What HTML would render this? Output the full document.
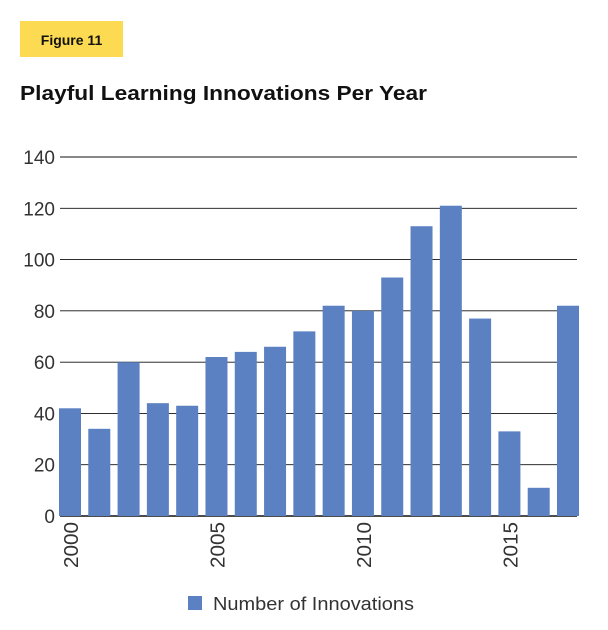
<!DOCTYPE html>
<html><head><meta charset="utf-8"><style>
body{margin:0;background:#fff;font-family:"Liberation Sans",Arial,sans-serif}
svg{display:block}
</style></head><body>
<svg width="608" height="630" xmlns="http://www.w3.org/2000/svg">
<rect x="20" y="21" width="103" height="36" fill="#fcdb52"/>
<text x="71.5" y="45" text-anchor="middle" font-size="14" font-weight="bold" fill="#111">Figure 11</text>
<text x="20" y="100" font-size="20" font-weight="bold" fill="#111" textLength="407" lengthAdjust="spacingAndGlyphs">Playful Learning Innovations Per Year</text>
<g id="grid"></g><g id="bars"></g><g id="xlabels"></g>
<rect x="188" y="596" width="14" height="14" fill="#5b81c2"/>
<text x="213" y="610" font-size="18" fill="#333" textLength="201" lengthAdjust="spacingAndGlyphs">Number of Innovations</text>
</svg>
<script>
const years=[2000,2001,2002,2003,2004,2005,2006,2007,2008,2009,2010,2011,2012,2013,2014,2015,2016,2017];
const values=[42,34,60,44,43,62,64,66,72,82,80,93,113,121,77,33,11,82];
const yTicks=[0,20,40,60,80,100,120,140];
const xLabelYears=[2000,2005,2010,2015];
const NS="http://www.w3.org/2000/svg";
const y=v=>516-v*(359/140);
const x=i=>70+i*(498/17);
const g=document.getElementById('grid'),b=document.getElementById('bars'),xl=document.getElementById('xlabels');
yTicks.forEach(t=>{
 const l=document.createElementNS(NS,'line');
 l.setAttribute('x1',60);l.setAttribute('x2',577);l.setAttribute('y1',y(t));l.setAttribute('y2',y(t));
 l.setAttribute('stroke','#111');l.setAttribute('stroke-width',t===0?1.5:0.9);
 
 
 g.appendChild(l);
 const tx=document.createElementNS(NS,'text');
 tx.setAttribute('x',55);tx.setAttribute('y',y(t)+7);tx.setAttribute('text-anchor','end');
 tx.setAttribute('font-size','19');tx.setAttribute('fill','#333');tx.textContent=t;
 
 
 g.appendChild(tx);
});
values.forEach((v,i)=>{
 const r=document.createElementNS(NS,'rect');
 r.setAttribute('x',x(i)-11);r.setAttribute('width',22);r.setAttribute('y',y(v));r.setAttribute('height',516-y(v));
 r.setAttribute('fill','#5b81c2');
 
 
 b.appendChild(r);
});
xLabelYears.forEach(yr=>{
 const i=years.indexOf(yr);
 const tx=document.createElementNS(NS,'text');
 const cx=x(i)+8,cy=522;
 tx.setAttribute('transform','translate('+cx+','+cy+') rotate(-90)');
 tx.setAttribute('text-anchor','end');tx.setAttribute('font-size','20');tx.setAttribute('fill','#333');
 tx.setAttribute('textLength','46');tx.setAttribute('lengthAdjust','spacingAndGlyphs');
 tx.textContent=yr;
 
 
 xl.appendChild(tx);
});
</script>
</body></html>
